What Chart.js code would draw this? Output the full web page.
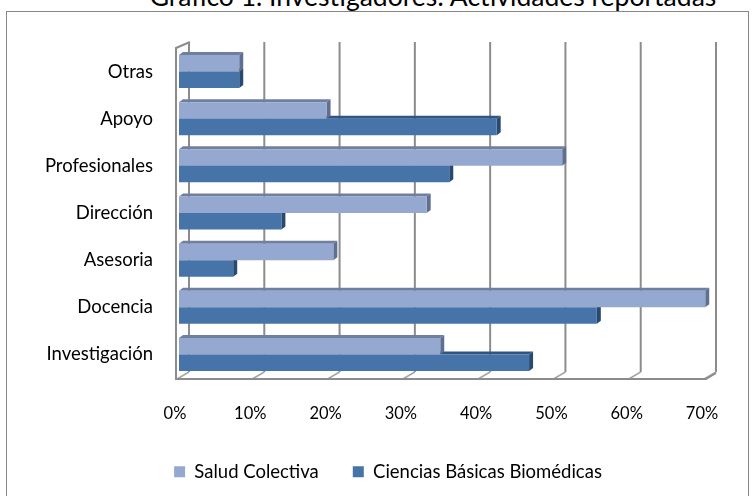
<!DOCTYPE html>
<html>
<head>
<meta charset="utf-8">
<script src="https://cdn.jsdelivr.net/npm/chart.js@4"></script>
<style>
  body { margin: 0; background: #fff; }
  #wrap { position: relative; width: 755px; height: 496px; overflow: hidden; background: #fff; }
  .title {
    position: absolute; left: 433px; top: -17px; transform: translateX(-50%);
    white-space: nowrap; font: 26.5px Lato, sans-serif; line-height: 26.5px; color: #000;
  }
  .frame { position: absolute; left: 6px; top: 11px; width: 741px; height: 600px; border: 1px solid #878787; }
  canvas { position: absolute; left: 0; top: 0; }
</style>
</head>
<body>
<div id="wrap">
  <div class="title">Gráfico 1. Investigadores: Actividades reportadas</div>
  <div class="frame"></div>
  <canvas id="myChart" width="755" height="496"></canvas>
</div>
<script>
const categories = ['Otras', 'Apoyo', 'Profesionales', 'Dirección', 'Asesoria', 'Docencia', 'Investigación'];
const saludColectiva = [8, 19.6, 50.9, 32.9, 20.5, 69.9, 34.7];
const cienciasBasicas = [8, 42.2, 35.9, 13.6, 7.2, 55.5, 46.5];
const seriesNames = ['Salud Colectiva', 'Ciencias Básicas Biomédicas'];

// front, top face and side face colours for each series
const frontColors = ['rgb(149,169,208)', 'rgb(70,116,168)'];
const topColors = ['rgb(111,127,160)', 'rgb(47,85,128)'];
const sideColors = ['rgb(94,111,145)', 'rgb(40,73,112)'];

const depthX = 4, depthY = 3;   // bar depth
const wallX = 10, wallY = 6;    // back wall offset
const labelFont = { family: 'Lato', size: 18.5 };

// walls, gridlines and the 3d faces of the bars, drawn under the bar fronts
const fake3d = {
  id: 'fake3d',
  afterLayout(chart) {
    // legend sits a bit right of the canvas centre in the original
    chart.legend.left += 35;
    chart.legend.right += 35;
  },
  beforeDatasetsDraw(chart) {
    const ctx = chart.ctx;
    const xs = chart.scales.x;
    const area = chart.chartArea;
    ctx.save();

    // back gridlines
    ctx.strokeStyle = '#8c8c8c';
    ctx.lineWidth = 2;
    xs.ticks.forEach(t => {
      const px = xs.getPixelForValue(t.value) + wallX;
      ctx.beginPath();
      ctx.moveTo(px, area.top - wallY);
      ctx.lineTo(px, area.bottom - wallY);
      ctx.stroke();
    });

    // floor diagonals
    ctx.strokeStyle = '#a6a6a6';
    ctx.lineWidth = 1.5;
    xs.ticks.forEach(t => {
      const px = xs.getPixelForValue(t.value);
      ctx.beginPath();
      ctx.moveTo(px - 2, area.bottom + 1);
      ctx.lineTo(px + wallX, area.bottom - wallY);
      ctx.stroke();
    });

    // left wall and front floor edge
    ctx.strokeStyle = '#8c8c8c';
    ctx.lineWidth = 2;
    const x0 = xs.getPixelForValue(0) - 3;
    ctx.beginPath();
    ctx.moveTo(x0 + 4 + wallX, area.top - wallY);
    ctx.lineTo(x0, area.top);
    ctx.lineTo(x0, area.bottom + 1);
    ctx.lineTo(xs.right, area.bottom + 1);
    ctx.lineTo(xs.right + wallX, area.bottom - wallY + 1);
    ctx.stroke();

    // bar tops and sides
    [1, 0].forEach(i => {
      chart.getDatasetMeta(i).data.forEach(bar => {
        const p = bar.getProps(['x', 'y', 'base', 'height'], true);
        const top = p.y - p.height / 2, bottom = p.y + p.height / 2;
        ctx.fillStyle = topColors[i];
        ctx.beginPath();
        ctx.moveTo(p.base, top);
        ctx.lineTo(p.base + depthX, top - depthY);
        ctx.lineTo(p.x + depthX, top - depthY);
        ctx.lineTo(p.x, top);
        ctx.closePath();
        ctx.fill();
        ctx.fillStyle = sideColors[i];
        ctx.beginPath();
        ctx.moveTo(p.x, top);
        ctx.lineTo(p.x + depthX, top - depthY);
        ctx.lineTo(p.x + depthX, bottom - depthY);
        ctx.lineTo(p.x, bottom);
        ctx.closePath();
        ctx.fill();
      });
    });
    ctx.restore();
  }
};

const data1 = {
  labels: categories,
  datasets: [{
    label: seriesNames[0],
    data: saludColectiva,
    backgroundColor: frontColors[0],
    borderWidth: 0
  }, {
    label: seriesNames[1],
    data: cienciasBasicas,
    backgroundColor: frontColors[1],
    borderWidth: 0
  }]
};

const config1 = {
  type: 'bar',
  data: data1,
  options: {
    indexAxis: 'y',
    responsive: false,
    animation: false,
    devicePixelRatio: 1,
    categoryPercentage: 0.7,
    barPercentage: 1.0,
    layout: { padding: { top: 48, right: 49, bottom: 5, left: 0 } },
    scales: {
      x: {
        min: 0,
        max: 70,
        ticks: {
          stepSize: 10,
          callback: v => v + '%',
          font: { family: 'Lato', size: 16.5 },
          color: '#000',
          padding: 26,
          labelOffset: -4
        },
        grid: { display: false, drawTicks: false },
        border: { display: false },
        afterFit: s => { s.height = 50.5; }
      },
      y: {
        ticks: {
          font: labelFont,
          color: '#000',
          padding: 26
        },
        grid: { display: false, drawTicks: false },
        border: { display: false },
        afterFit: s => { s.width = 179; }
      }
    },
    plugins: {
      legend: {
        position: 'bottom',
        labels: {
          boxWidth: 11,
          boxHeight: 11,
          padding: 34,
          font: labelFont,
          color: '#000'
        }
      },
      tooltip: { enabled: false }
    }
  },
  plugins: [fake3d]
};

const myChart1 = new Chart(document.getElementById('myChart'), config1);
</script>
</body>
</html>
